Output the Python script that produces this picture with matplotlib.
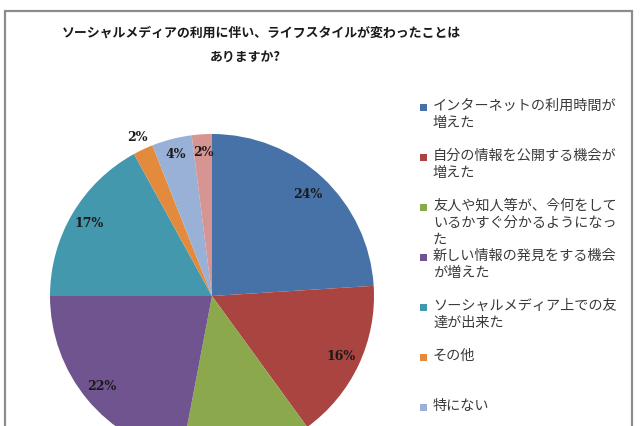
import matplotlib
matplotlib.use("Agg")
import matplotlib.pyplot as plt
import matplotlib.patches as mpatches
import numpy as np

plt.rcParams['font.family'] = ['Noto Sans CJK JP', 'DejaVu Sans']

title_lines = ["ソーシャルメディアの利用に伴い、ライフスタイルが変わったことは",
               "ありますか?"]

categories = [
    "インターネットの利用時間が\n増えた",
    "自分の情報を公開する機会が\n増えた",
    "友人や知人等が、今何をして\nいるかすぐ分かるようになっ\nた",
    "新しい情報の発見をする機会\nが増えた",
    "ソーシャルメディア上での友\n達が出来た",
    "その他",
    "特にない",
    "無回答",
]
shares = [24, 16, 13, 22, 17, 2, 4, 2]
colors = ["#4672a8", "#aa4440", "#8ba84c", "#6f548f", "#4398ae",
          "#e38a3c", "#9ab1d7", "#d69592"]
label_dist = [0.86, 0.88, 0.95, 0.88, 0.88, 1.08, 0.9, 0.89]

W, H = 640, 426
fig = plt.figure(figsize=(W / 100, H / 100), dpi=100)
fig.patch.set_facecolor("white")

# outer frame (bottom edge is cut off in the original)
frame = mpatches.Rectangle((5 / W, -0.1), (632 - 5) / W, 1.1 - 11 / H,
                           transform=fig.transFigure, fill=False,
                           edgecolor="#8c8c8c", linewidth=1.6)
fig.patches.append(frame)

# title
fig.text(261 / W, 1 - 33 / H, title_lines[0], ha="center", va="center",
         fontsize=9.3, fontweight="bold", color="#1a1a1a")
fig.text(245 / W, 1 - 57 / H, title_lines[1], ha="center", va="center",
         fontsize=9.3, fontweight="bold", color="#1a1a1a")

# pie, centre (212, 296) px, radius 162 px
cx, cy, r = 212, 296, 162
ax = fig.add_axes([(cx - r) / W, 1 - (cy + r) / H, 2 * r / W, 2 * r / H])
wedges, _ = ax.pie(shares, colors=colors, startangle=90, counterclock=False,
                   wedgeprops=dict(linewidth=0))
ax.set_xlim(-1, 1)
ax.set_ylim(-1, 1)
ax.set_aspect("equal")
ax.axis("off")

for w, v, d in zip(wedges, shares, label_dist):
    ang = np.deg2rad((w.theta1 + w.theta2) / 2)
    x, y = d * np.cos(ang), d * np.sin(ang)
    # labels that fall below the cropped bottom edge are not shown
    if cy - y * r > H - 5:
        continue
    ax.text(x, y, f"{v}%", ha="center", va="center", fontsize=9,
            fontweight="bold", family="DejaVu Serif", color="#1a1a1a",
            clip_on=False)

# legend, one 50 px slot per entry (the last one falls below the crop)
for i, (lab, c) in enumerate(zip(categories, colors)):
    y = 107 + 50 * i
    if y > H - 10:
        break
    fig.patches.append(mpatches.Rectangle((420 / W, 1 - (y + 3.5) / H),
                                          7 / W, 7 / H,
                                          transform=fig.transFigure,
                                          facecolor=c, edgecolor="none"))
    fig.text(433 / W, 1 - (y - 8) / H, lab, ha="left", va="top",
             fontsize=10.2, color="#3a3a3a", linespacing=1.25)

fig.savefig("out.png", dpi=100)
